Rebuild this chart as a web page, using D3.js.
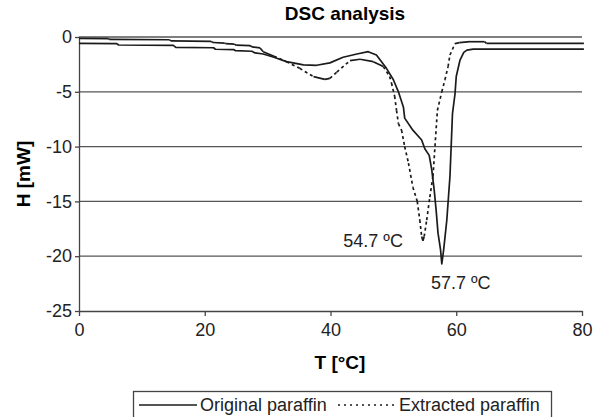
<!DOCTYPE html>
<html>
<head>
<meta charset="utf-8">
<script src="https://cdn.jsdelivr.net/npm/d3@7"></script>
<style>
  html, body { margin: 0; padding: 0; background: #fff; }
  svg { display: block; font-family: "Liberation Sans", Arial, sans-serif; }
</style>
</head>
<body>
<svg id="chart" width="606" height="417"></svg>
<script>
// temperature [°C] and heat flow [mW]
const originalT = [0, 6.0, 6.3, 15.0, 15.4, 21.4, 21.7, 24.6, 24.9, 27.5, 28.0, 29.3, 31.0, 33.0, 35.7, 37.8, 39.9, 42.0, 44.2, 46.0, 47.3, 48.9, 50.0, 50.8, 51.6, 51.8, 53.1, 54.5, 55.0, 55.7, 56.1, 56.5, 56.8, 57.1, 57.5, 57.7, 58.0, 58.5, 59.0, 59.4, 59.8, 60.0, 60.6, 61.2, 61.7, 62.7, 80.3];
const originalH = [-0.58, -0.6, -0.73, -0.76, -0.94, -0.98, -1.12, -1.15, -1.25, -1.3, -1.45, -1.55, -1.85, -2.25, -2.55, -2.58, -2.36, -1.85, -1.55, -1.34, -1.64, -2.86, -3.9, -5.0, -6.4, -7.4, -8.5, -9.4, -10.2, -10.8, -12.1, -14.0, -15.8, -17.9, -19.4, -20.7, -19.4, -16.7, -12.7, -7.0, -5.2, -3.6, -2.1, -1.4, -1.2, -1.1, -1.1];

const extractedT = [0, 4.7, 4.8, 14.4, 14.6, 21.0, 21.3, 23.1, 23.3, 24.7, 25.0, 27.2, 27.5, 28.8, 29.3, 31.0, 33.0, 35.1, 37.3, 39.1, 39.9, 41.0, 43.1, 44.7, 46.8, 48.4, 49.4, 49.7, 50.2, 50.5, 50.8, 51.3, 51.8, 52.4, 53.1, 53.8, 54.2, 54.5, 54.7, 54.9, 55.3, 55.8, 56.3, 57.0, 57.7, 58.2, 58.7, 59.0, 59.8, 60.5, 62.2, 64.5, 64.8, 80.3];
const extractedH = [-0.12, -0.14, -0.22, -0.25, -0.36, -0.4, -0.5, -0.55, -0.6, -0.65, -0.75, -0.78, -0.9, -1.0, -1.34, -1.75, -2.25, -2.86, -3.62, -3.86, -3.77, -3.2, -2.16, -2.03, -2.25, -2.7, -3.6, -4.2, -5.4, -6.7, -7.9, -8.5, -10.0, -11.5, -13.7, -15.0, -16.7, -18.2, -18.6, -18.2, -16.7, -14.6, -12.7, -6.7, -5.0, -3.9, -2.7, -1.64, -0.6, -0.52, -0.43, -0.43, -0.58, -0.58];

const xTicks = [0, 20, 40, 60, 80];
const yTicks = [0, -5, -10, -15, -20, -25];

const peaks = [
  {t: 54.7, h: -18.6, label: "54.7 ºC"},
  {t: 57.7, h: -20.7, label: "57.7 ºC"}
];

const ink = "#1b1b1b";
const svg = d3.select("#chart");
const margin = {top: 37, right: 24, bottom: 106, left: 79};
const width = 606 - margin.left - margin.right;
const height = 417 - margin.top - margin.bottom;

const x = d3.scaleLinear().domain([0, 80]).range([0, width]);
const y = d3.scaleLinear().domain([-25, 0]).range([height, 0]);

const chart = svg.append("g")
  .attr("transform", `translate(${margin.left}, ${margin.top})`);

// horizontal grid
chart.append("g")
  .selectAll("line")
  .data(yTicks.filter(d => d !== -25))
  .enter()
  .append("line")
  .attr("x1", 0)
  .attr("x2", width)
  .attr("y1", d => y(d))
  .attr("y2", d => y(d))
  .attr("stroke", "#555")
  .attr("stroke-width", 1.3);

// axes (plain hyphen for negatives, like the source)
const xAxis = chart.append("g")
  .attr("transform", `translate(0, ${height})`)
  .call(d3.axisBottom(x).tickValues(xTicks).tickSize(5).tickPadding(7).tickSizeOuter(0)
    .tickFormat(d => String(d)));
const yAxis = chart.append("g")
  .call(d3.axisLeft(y).tickValues(yTicks).tickSize(4).tickPadding(3).tickSizeOuter(0)
    .tickFormat(d => String(d)));

[xAxis, yAxis].forEach(a => {
  a.select(".domain").attr("stroke", "#444").attr("stroke-width", 1.3);
  a.selectAll(".tick line").attr("stroke", "#444").attr("stroke-width", 1.3);
  a.selectAll(".tick text")
    .attr("fill", "#222")
    .style("font-size", "18px")
    .style("font-family", "'Liberation Sans', Arial, sans-serif");
});

// original paraffin: continuous line
const line = d3.line()
  .x((d, i) => x(originalT[i]))
  .y(d => y(d));

chart.append("path")
  .datum(originalH)
  .attr("fill", "none")
  .attr("stroke", ink)
  .attr("stroke-width", 1.7)
  .attr("stroke-linejoin", "round")
  .attr("d", line);

// extracted paraffin: dash pattern restarts on each segment, like the source
const segs = d3.pairs(extractedT.map((t, i) => [t, extractedH[i]]));
chart.append("g")
  .selectAll("line")
  .data(segs)
  .enter()
  .append("line")
  .attr("x1", d => x(d[0][0]))
  .attr("y1", d => y(d[0][1]))
  .attr("x2", d => x(d[1][0]))
  .attr("y2", d => y(d[1][1]))
  .attr("stroke", ink)
  .attr("stroke-width", 1.7)
  .attr("stroke-linecap", "butt")
  .attr("stroke-dasharray", d => Math.abs(y(d[1][1]) - y(d[0][1])) > 5 ? "3,3" : null);

// peak labels
chart.append("text")
  .attr("x", x(peaks[0].t) - 20)
  .attr("y", y(peaks[0].h) + 6)
  .attr("text-anchor", "end")
  .attr("fill", "#222")
  .style("font-size", "18px")
  .text(peaks[0].label);

chart.append("text")
  .attr("x", x(peaks[1].t) + 19)
  .attr("y", y(peaks[1].h) + 25)
  .attr("text-anchor", "middle")
  .attr("fill", "#222")
  .style("font-size", "18px")
  .text(peaks[1].label);

// titles
svg.append("text")
  .attr("x", 345)
  .attr("y", 20)
  .attr("text-anchor", "middle")
  .style("font-size", "19px")
  .style("font-weight", "bold")
  .text("DSC analysis");

svg.append("text")
  .attr("x", 340)
  .attr("y", 369)
  .attr("text-anchor", "middle")
  .style("font-size", "19px")
  .style("font-weight", "bold")
  .text("T [°C]");

svg.append("text")
  .attr("transform", `translate(30, ${margin.top + height / 2}) rotate(-90)`)
  .attr("text-anchor", "middle")
  .style("font-size", "19px")
  .style("font-weight", "bold")
  .text("H [mW]");

// legend
const legend = svg.append("g");
legend.append("rect")
  .attr("x", 133.5)
  .attr("y", 391.5)
  .attr("width", 418)
  .attr("height", 34)
  .attr("fill", "none")
  .attr("stroke", "#444")
  .attr("stroke-width", 1.3);

legend.append("line")
  .attr("x1", 139).attr("x2", 197)
  .attr("y1", 405).attr("y2", 405)
  .attr("stroke", ink).attr("stroke-width", 1.6);
legend.append("text")
  .attr("x", 200).attr("y", 411)
  .attr("fill", "#222")
  .style("font-size", "18px")
  .text("Original paraffin");

legend.append("line")
  .attr("x1", 338).attr("x2", 396)
  .attr("y1", 405).attr("y2", 405)
  .attr("stroke", ink).attr("stroke-width", 1.6)
  .attr("stroke-dasharray", "2,4");
legend.append("text")
  .attr("x", 399).attr("y", 411)
  .attr("fill", "#222")
  .style("font-size", "18px")
  .text("Extracted paraffin");
</script>
</body>
</html>
